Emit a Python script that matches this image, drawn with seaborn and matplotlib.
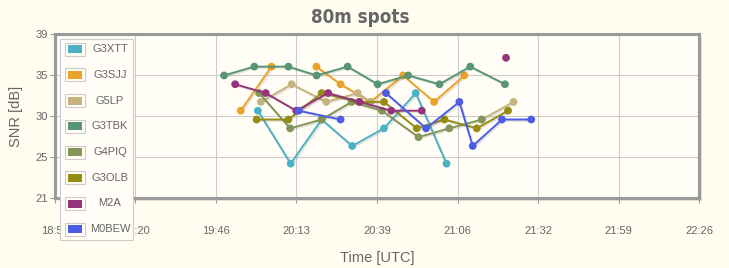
import numpy as np
import pandas as pd
import matplotlib
matplotlib.use("Agg")
import matplotlib.pyplot as plt
import seaborn as sns
from matplotlib import patheffects as pe
from matplotlib.patches import Rectangle

# ---------------- data ----------------
calls = ["G3XTT", "G3SJJ", "G5LP", "G3TBK", "G4PIQ", "G3OLB", "M2A", "M0BEW"]
colors = ["#4bb2c5", "#eaa228", "#c5b47f", "#579575", "#839557", "#958c12", "#953579", "#4b5de4"]

# None marks a break in the line
g3xtt_time = ["20:00:20", "20:11:10", "20:21:25", "20:31:30", "20:42:00", "20:52:30", "21:02:40"]
g3xtt_snr = [31, 25, 30, 27, 29, 33, 25]
g3sjj_time = ["19:54:40", "20:04:50", None, "20:19:40", "20:27:40", "20:37:35", "20:48:20", "20:58:35", "21:08:35"]
g3sjj_snr = [31, 36, None, 36, 34, 32, 35, 32, 35]
g5lp_time = ["20:01:20", "20:11:30", "20:22:55", "20:33:20", "20:37:35", None, "21:14:20", "21:24:50"]
g5lp_snr = [32, 34, 32, 33, 32, None, 30, 32]
g3tbk_time = ["19:49:10", "19:59:10", "20:10:25", "20:19:45", "20:30:00", "20:39:55", "20:50:00", "21:00:20", "21:10:30", "21:22:00"]
g3tbk_snr = [35, 36, 36, 35, 36, 34, 35, 34, 36, 34]
g4piq_time = ["20:00:45", "20:11:00", "20:21:25", "20:31:20", "20:41:20", "20:53:25", "21:03:35", "21:14:20"]
g4piq_snr = [33, 29, 30, 32, 31, 28, 29, 30]
g3olb_time = ["19:59:55", "20:10:25", "20:21:25", "20:33:45", "20:42:00", "20:52:50", "21:02:00", "21:12:40", "21:23:00"]
g3olb_snr = [30, 30, 33, 32, 32, 29, 30, 29, 31]
m2a_time = ["19:52:50", "20:02:55", "20:13:00", "20:23:35", "20:33:55", "20:44:25", "20:54:30", None, "21:22:20"]
m2a_snr = [34, 33, 31, 33, 32, 31, 31, None, 37]
m0bew_time = ["20:13:50", "20:27:40", None, "20:42:40", "20:55:55", "21:06:55", "21:11:20", "21:21:00", "21:30:40"]
m0bew_snr = [31, 30, None, 33, 29, 32, 27, 30, 30]

series_times = [g3xtt_time, g3sjj_time, g5lp_time, g3tbk_time, g4piq_time, g3olb_time, m2a_time, m0bew_time]
series_snr = [g3xtt_snr, g3sjj_snr, g5lp_snr, g3tbk_snr, g4piq_snr, g3olb_snr, m2a_snr, m0bew_snr]

x_tick_labels = ["18:53", "19:20", "19:46", "20:13", "20:39", "21:06", "21:32", "21:59", "22:26"]
x_range = ("18:53:18", "22:26:06")
y_tick_labels = ["21", "25", "30", "35", "39"]
y_range = (21.1, 39.7)


def to_min(s):
    parts = [int(p) for p in s.split(":")]
    while len(parts) < 3:
        parts.append(0)
    return parts[0] * 60 + parts[1] + parts[2] / 60.0


rows = []
for call, times, snrs in zip(calls, series_times, series_snr):
    seg = 0
    for t, v in zip(times, snrs):
        if t is None:
            seg += 1
            continue
        rows.append({"call": call, "t": to_min(t), "snr": v, "seg": seg})
df = pd.DataFrame(rows)

# ---------------- style ----------------
sns.set_theme(style="white")
plt.rcParams["font.family"] = ["Liberation Sans", "DejaVu Sans"]

W, H = 729, 268
BG = "#fffdf0"
PLOT_BG = "#fffdf6"
TXT = "#666666"

fig = plt.figure(figsize=(W / 100, H / 100), dpi=100)
fig.patch.set_facecolor(BG)

L, R, T, B = 55, 699, 34, 198
ax = fig.add_axes([L / W, 1 - B / H, (R - L) / W, (B - T) / H])
ax.set_facecolor(PLOT_BG)

# plot-area shadow
fig.add_artist(Rectangle(((L + 3) / W, 1 - (B + 3) / H), (R - L) / W, (B - T) / H,
                         transform=fig.transFigure, facecolor="#e4e3d8",
                         edgecolor="none", zorder=-1))

sns.lineplot(data=df, x="t", y="snr", hue="call", hue_order=calls,
             palette=dict(zip(calls, colors)), units="seg", estimator=None,
             sort=False, marker="o", markersize=5.6, markeredgewidth=0,
             linewidth=1.4, legend=False, ax=ax)

for ln in ax.lines:
    ln.set_path_effects([pe.SimpleLineShadow(offset=(1.0, -1.0), shadow_color="black", alpha=0.10),
                         pe.Normal()])
    ln.set_zorder(3)

x0, x1 = to_min(x_range[0]), to_min(x_range[1])
ax.set_xlim(x0, x1)
ax.set_xticks(np.linspace(x0, x1, len(x_tick_labels)))
ax.set_xticklabels(x_tick_labels)
ax.set_ylim(*y_range)
ax.set_yticks(np.linspace(y_range[0], y_range[1], len(y_tick_labels)))
ax.set_yticklabels(y_tick_labels)

ax.grid(True, color="#cccccc", linewidth=0.8)
ax.set_axisbelow(True)
for s in ax.spines.values():
    s.set_color("#999999")
    s.set_linewidth(2.2)
    s.set_visible(True)

ax.tick_params(axis="both", which="major", length=3.5, width=0.8, color="#999999",
               labelcolor=TXT, labelsize=8, bottom=True, left=True)
ax.tick_params(axis="x", pad=17)
ax.tick_params(axis="y", pad=1.5)

ax.set_xlabel("Time [UTC]", fontsize=10.5, color=TXT)
ax.xaxis.set_label_coords(0.5, (B - 258) / (B - T))
ax.xaxis.label.set_va("center")
ax.set_ylabel("SNR [dB]", fontsize=10.5, color=TXT)
ax.yaxis.set_label_coords((16.5 - L) / (R - L), 0.5)
ax.yaxis.label.set_va("center")

fig.text(360 / W, 1 - 23 / H, "80m spots", ha="center", va="baseline",
         fontsize=13.5, fontweight="bold", fontstretch="condensed", color="#666666",
         family=["DejaVu Sans"])

# ---------------- legend ----------------
def fx(px):
    return px / W


def fy(py):
    return 1 - py / H


lg_l, lg_r, lg_t, lg_b = 60, 133, 39, 240
fig.add_artist(Rectangle((fx(lg_l), fy(lg_b)), (lg_r - lg_l) / W, (lg_b - lg_t) / H,
                         transform=fig.transFigure, facecolor=PLOT_BG,
                         edgecolor="#cccccc", linewidth=0.8, zorder=5))
for i, (call, col) in enumerate(zip(calls, colors)):
    yc = 49 + i * 25.75
    fig.add_artist(Rectangle((fx(64.5), fy(yc + 6.5)), 20 / W, 13 / H,
                             transform=fig.transFigure, facecolor="none",
                             edgecolor="#cccccc", linewidth=0.8, zorder=6))
    fig.add_artist(Rectangle((fx(67.5), fy(yc + 4)), 14 / W, 8 / H,
                             transform=fig.transFigure, facecolor=col,
                             edgecolor="none", zorder=6))
    fig.text(fx(110), fy(yc), call, ha="center", va="center", fontsize=8,
             color=TXT, zorder=7)

fig.savefig("out.png", dpi=100, facecolor=BG)
